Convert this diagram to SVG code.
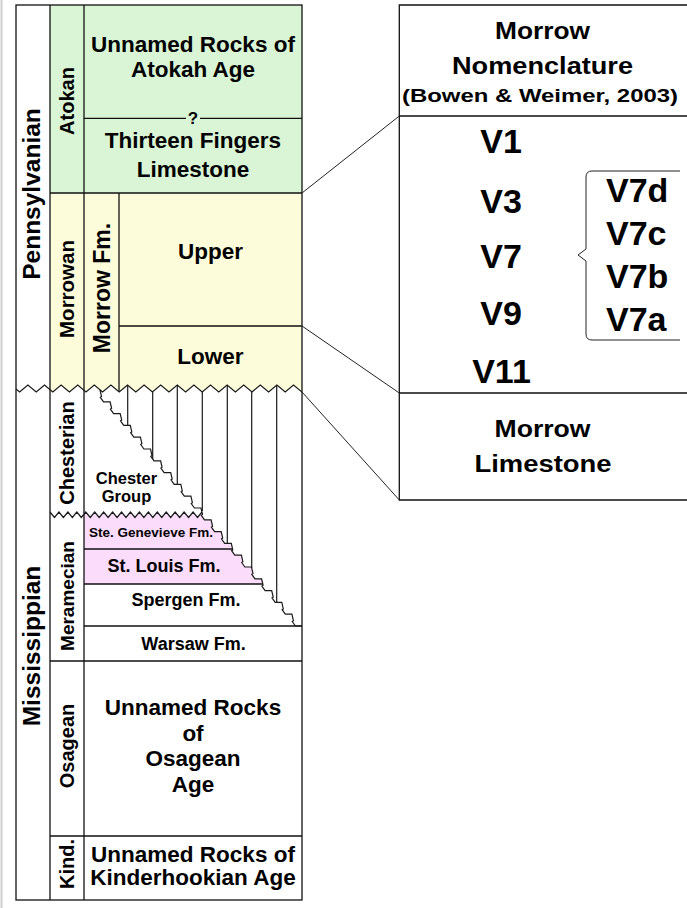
<svg xmlns="http://www.w3.org/2000/svg" width="687" height="908" viewBox="0 0 687 908">
<style>
.t{font-family:"Liberation Sans",Arial,sans-serif;font-weight:bold;fill:#000;text-anchor:middle}
.f22{font-size:22.5px}.f18{font-size:18px}.f17{font-size:16.5px}.f13{font-size:13.5px}
.f20{font-size:20px}.f24{font-size:24.5px}.f34{font-size:34px}
.ln{stroke:#111;stroke-width:1.3;fill:none}
.thin{stroke:#222;stroke-width:1;fill:none}
.vl{stroke:#1a1a1a;stroke-width:1.2;fill:none}
.st{stroke:#1a1a1a;stroke-width:1.2;fill:none;stroke-linejoin:miter}
</style>
<rect x="0" y="0" width="687" height="908" fill="#fff"/>
<line x1="1.5" y1="0" x2="1.5" y2="908" stroke="#cfcfcf" stroke-width="2"/>

<g id="fills">
  <rect x="50" y="5" width="252" height="188" fill="#d9f5d6"/>
  <rect x="50" y="193" width="252" height="199" fill="#fcfcda"/>
  <path fill="#fff" d="M16,389 L19.6,392 l8.3,-7 8.3,7 8.3,-7 8.3,7 8.3,-7 8.3,7 8.3,-7 8.3,7 8.3,-7 8.3,7 8.3,-7 8.3,7 8.3,-7 8.3,7 8.3,-7 8.3,7 8.3,-7 8.3,7 8.3,-7 8.3,7 8.3,-7 8.3,7 8.3,-7 8.3,7 8.3,-7 8.3,7 8.3,-7 8.3,7 8.3,-7 8.3,7 8.3,-7 8.3,7 8.3,-7 8.3,7 L302,392 L302,400 L16,400 Z"/>
  <rect x="84" y="512" width="218" height="72" fill="#fbdcfb"/>
  <path fill="#fff" d="M50,512 l4.47,5.5 4.47,-5.5 4.47,5.5 4.47,-5.5 4.47,5.5 4.47,-5.5 4.47,5.5 4.47,-5.5 4.47,5.5 4.47,-5.5 4.47,5.5 4.47,-5.5 4.47,5.5 4.47,-5.5 4.47,5.5 4.47,-5.5 4.47,5.5 4.47,-5.5 4.47,5.5 4.47,-5.5 4.47,5.5 4.47,-5.5 4.47,5.5 4.47,-5.5 4.47,5.5 4.47,-5.5 4.47,5.5 4.47,-5.5 4.47,5.5 4.47,-5.5 4.47,5.5 4.47,-5.5 4.47,5.5 4.47,-5.5 L202,505 L50,505 Z"/>
  <path fill="#fff" d="M100,390 l1.5,6.5 -1.2,0.8 3.2,4.5 6.6,0 1.5,6.5 -1.2,0.8 3.2,4.5 6.6,0 1.5,6.5 -1.2,0.8 3.2,4.5 6.6,0 1.5,6.5 -1.2,0.8 3.2,4.5 6.6,0 1.5,6.5 -1.2,0.8 3.2,4.5 6.6,0 1.5,6.5 -1.2,0.8 3.2,4.5 6.6,0 1.5,6.5 -1.2,0.8 3.2,4.5 6.6,0 1.5,6.5 -1.2,0.8 3.2,4.5 6.6,0 1.5,6.5 -1.2,0.8 3.2,4.5 6.6,0 1.5,6.5 -1.2,0.8 3.2,4.5 6.6,0 1.5,6.5 -1.2,0.8 3.2,4.5 6.6,0 1.5,6.5 -1.2,0.8 3.2,4.5 6.6,0 1.5,6.5 -1.2,0.8 3.2,4.5 6.6,0 1.5,6.5 -1.2,0.8 3.2,4.5 6.6,0 1.5,6.5 -1.2,0.8 3.2,4.5 6.6,0 1.5,6.5 -1.2,0.8 3.2,4.5 6.6,0 1.5,6.5 -1.2,0.8 3.2,4.5 6.6,0 1.5,6.5 -1.2,0.8 3.2,4.5 6.6,0 1.5,6.5 -1.2,0.8 3.2,4.5 6.6,0 1.5,6.5 -1.2,0.8 3.2,4.5 6.6,0 L302,392 L100,392 Z"/>
</g>

<g id="strata-lines">
  <rect class="ln" x="16" y="5" width="286" height="895"/>
  <line class="ln" x1="50" y1="5" x2="50" y2="900"/>
  <line class="ln" x1="84" y1="5" x2="84" y2="900"/>
  <line class="ln" x1="119" y1="193" x2="119" y2="392"/>
  <line class="ln" x1="50" y1="193" x2="302" y2="193"/>
  <line class="ln" x1="84" y1="118.3" x2="186" y2="118.3"/>
  <line class="ln" x1="200" y1="118.3" x2="302" y2="118.3"/>
  <line class="ln" x1="119" y1="326" x2="302" y2="326"/>
  <line class="ln" x1="84" y1="549" x2="232.6" y2="549"/>
  <line class="ln" x1="84" y1="584" x2="262.8" y2="584"/>
  <line class="ln" x1="84" y1="626" x2="302" y2="626"/>
  <line class="ln" x1="50" y1="661" x2="302" y2="661"/>
  <line class="ln" x1="50" y1="836" x2="302" y2="836"/>
  <g class="vl">
    <line x1="127.7" y1="385" x2="127.7" y2="425.4"/>
    <line x1="152.7" y1="392" x2="152.7" y2="459"/>
    <line x1="177.3" y1="385" x2="177.3" y2="484.4"/>
    <line x1="202.3" y1="392" x2="202.3" y2="511"/>
    <line x1="227.3" y1="385" x2="227.3" y2="543.4"/>
    <line x1="251.7" y1="392" x2="251.7" y2="567.9"/>
    <line x1="276.7" y1="385" x2="276.7" y2="602.4"/>
  </g>
  <path class="st" d="M16,389 L19.6,392 l8.3,-7 8.3,7 8.3,-7 8.3,7 8.3,-7 8.3,7 8.3,-7 8.3,7 8.3,-7 8.3,7 8.3,-7 8.3,7 8.3,-7 8.3,7 8.3,-7 8.3,7 8.3,-7 8.3,7 8.3,-7 8.3,7 8.3,-7 8.3,7 8.3,-7 8.3,7 8.3,-7 8.3,7 8.3,-7 8.3,7 8.3,-7 8.3,7 8.3,-7 8.3,7 8.3,-7 8.3,7 L302,392"/>
  <path class="st" d="M50,512 l4.47,5.5 4.47,-5.5 4.47,5.5 4.47,-5.5 4.47,5.5 4.47,-5.5 4.47,5.5 4.47,-5.5 4.47,5.5 4.47,-5.5 4.47,5.5 4.47,-5.5 4.47,5.5 4.47,-5.5 4.47,5.5 4.47,-5.5 4.47,5.5 4.47,-5.5 4.47,5.5 4.47,-5.5 4.47,5.5 4.47,-5.5 4.47,5.5 4.47,-5.5 4.47,5.5 4.47,-5.5 4.47,5.5 4.47,-5.5 4.47,5.5 4.47,-5.5 4.47,5.5 4.47,-5.5 4.47,5.5 4.47,-5.5"/>
  <path class="st" d="M100,390 l1.5,6.5 -1.2,0.8 3.2,4.5 6.6,0 1.5,6.5 -1.2,0.8 3.2,4.5 6.6,0 1.5,6.5 -1.2,0.8 3.2,4.5 6.6,0 1.5,6.5 -1.2,0.8 3.2,4.5 6.6,0 1.5,6.5 -1.2,0.8 3.2,4.5 6.6,0 1.5,6.5 -1.2,0.8 3.2,4.5 6.6,0 1.5,6.5 -1.2,0.8 3.2,4.5 6.6,0 1.5,6.5 -1.2,0.8 3.2,4.5 6.6,0 1.5,6.5 -1.2,0.8 3.2,4.5 6.6,0 1.5,6.5 -1.2,0.8 3.2,4.5 6.6,0 1.5,6.5 -1.2,0.8 3.2,4.5 6.6,0 1.5,6.5 -1.2,0.8 3.2,4.5 6.6,0 1.5,6.5 -1.2,0.8 3.2,4.5 6.6,0 1.5,6.5 -1.2,0.8 3.2,4.5 6.6,0 1.5,6.5 -1.2,0.8 3.2,4.5 6.6,0 1.5,6.5 -1.2,0.8 3.2,4.5 6.6,0 1.5,6.5 -1.2,0.8 3.2,4.5 6.6,0 1.5,6.5 -1.2,0.8 3.2,4.5 6.6,0 1.5,6.5 -1.2,0.8 3.2,4.5 6.6,0 1.5,6.5 -1.2,0.8 3.2,4.5 6.6,0"/>
</g>

<g id="pennsylvanian"><text class="t f24" transform="translate(39.5,194) rotate(-90)">Pennsylvanian</text></g>
<g id="mississippian"><text class="t f24" transform="translate(39.5,646) rotate(-90)">Mississippian</text></g>
<g id="atokan"><text class="t f20" transform="translate(73.5,101) rotate(-90)">Atokan</text></g>
<g id="morrowan"><text class="t" style="font-size:20.5px" transform="translate(73.5,289) rotate(-90)">Morrowan</text></g>
<g id="morrow-fm"><text class="t" style="font-size:23px" transform="translate(110,288) rotate(-90)">Morrow Fm.</text></g>
<g id="chesterian"><text class="t f20" transform="translate(73.5,453) rotate(-90)">Chesterian</text></g>
<g id="meramecian"><text class="t" style="font-size:19px" transform="translate(73.5,596) rotate(-90)">Meramecian</text></g>
<g id="osagean"><text class="t f20" transform="translate(73.5,746) rotate(-90)">Osagean</text></g>
<g id="kind"><text class="t f20" transform="translate(73.5,864) rotate(-90)">Kind.</text></g>

<g id="unnamed-atokah"><text class="t f22" x="193" y="52">Unnamed Rocks of</text><text class="t f22" x="193" y="77">Atokah Age</text></g>
<g id="contact-query"><text class="t" style="font-size:17px" x="193" y="123.5">?</text></g>
<g id="thirteen-fingers"><text class="t f22" x="193" y="148">Thirteen Fingers</text><text class="t f22" x="193" y="177">Limestone</text></g>
<g id="upper"><text class="t f22" x="210.5" y="259">Upper</text></g>
<g id="lower"><text class="t f22" x="210.5" y="364">Lower</text></g>
<g id="chester-group"><text class="t f17" x="126.5" y="483.5">Chester</text><text class="t f17" x="126.5" y="502">Group</text></g>
<g id="ste-genevieve"><text class="t f13" x="151" y="536.5">Ste. Genevieve Fm.</text></g>
<g id="st-louis"><text class="t f18" x="164" y="571.5">St. Louis Fm.</text></g>
<g id="spergen"><text class="t f18" x="186" y="606">Spergen Fm.</text></g>
<g id="warsaw"><text class="t f18" x="193.5" y="650">Warsaw Fm.</text></g>
<g id="osagean-rocks"><text class="t f22" x="193" y="715">Unnamed Rocks</text><text class="t f22" x="193" y="740.5">of</text><text class="t f22" x="193" y="766">Osagean</text><text class="t f22" x="193" y="792">Age</text></g>
<g id="kinderhookian-rocks"><text class="t f22" x="193" y="862">Unnamed Rocks of</text><text class="t f22" x="193" y="885">Kinderhookian Age</text></g>

<g id="nomenclature-box">
  <path class="ln" d="M690,5 H399.3 V500 H690 M399.3,116 H690 M399.3,393 H690"/>
</g>
<g id="nomenclature-header">
  <text class="t" style="font-size:23px" x="542.5" y="39" textLength="95" lengthAdjust="spacingAndGlyphs">Morrow</text>
  <text class="t" style="font-size:23px" x="542.5" y="74" textLength="181" lengthAdjust="spacingAndGlyphs">Nomenclature</text>
  <text class="t" style="font-size:19px" x="540" y="102" textLength="276" lengthAdjust="spacingAndGlyphs">(Bowen &amp; Weimer, 2003)</text>
</g>
<g id="v-units">
  <text class="t f34" x="501" y="153">V1</text>
  <text class="t f34" x="501" y="213">V3</text>
  <text class="t f34" x="501" y="268">V7</text>
  <text class="t f34" x="501" y="325">V9</text>
  <text class="t f34" x="501.5" y="383">V11</text>
</g>
<g id="v7-subunits">
  <path class="thin" d="M680,171 H592 Q586,171 586,177 V249 L578,255 L586,261 V334 Q586,340 592,340 H680"/>
  <text class="t f34" x="606" y="202" style="text-anchor:start">V7d</text>
  <text class="t f34" x="606" y="245" style="text-anchor:start">V7c</text>
  <text class="t f34" x="606" y="288" style="text-anchor:start">V7b</text>
  <text class="t f34" x="606" y="331" style="text-anchor:start">V7a</text>
</g>
<g id="morrow-limestone">
  <text class="t" style="font-size:23px" x="542.5" y="437" textLength="96" lengthAdjust="spacingAndGlyphs">Morrow</text>
  <text class="t" style="font-size:23px" x="543" y="472" textLength="137" lengthAdjust="spacingAndGlyphs">Limestone</text>
</g>

<g id="connectors">
  <line class="thin" x1="302" y1="193" x2="399.3" y2="116"/>
  <line class="thin" x1="302" y1="326" x2="399.3" y2="393"/>
  <line class="thin" x1="302" y1="392" x2="399.3" y2="500"/>
</g>
</svg>
